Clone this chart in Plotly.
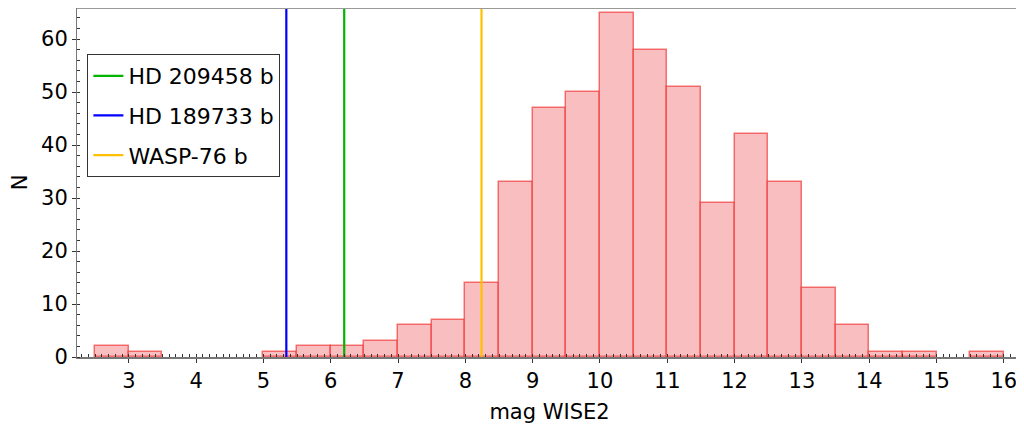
import numpy as np
import plotly.graph_objects as go

# Histogram data: bins of width 0.5 starting at 2.5
bin_start = 2.5
bin_width = 0.5
counts = [2, 1, 0, 0, 0, 1, 2, 2, 3, 6, 7, 14, 33, 47, 50, 65, 58, 51, 29, 42, 33, 13, 6, 1, 1, 0, 1]

# Planet magnitudes (vertical markers)
planet_names = ["HD 209458 b", "HD 189733 b", "WASP-76 b"]
planet_mags = [6.20, 5.34, 8.24]
planet_colors = ["#00b400", "#0000ff", "#ffc000"]

edges = bin_start + bin_width * np.arange(len(counts))
centers = edges + bin_width / 2
bar_heights = [c if c > 0 else None for c in counts]

FONT = "DejaVu Sans, Verdana, sans-serif"
FS = 21

# page body has an 8px margin; size the figure to fit the 1024x437 window
fig = go.Figure()
fig.add_trace(go.Bar(
    x=centers, y=bar_heights, width=bin_width,
    marker=dict(color="#f9bfc0", line=dict(color="rgba(240,30,30,0.6)", width=1.5)),
    showlegend=False, hoverinfo="x+y",
))
for i, (name, mag, col) in enumerate(zip(planet_names, planet_mags, planet_colors)):
    fig.add_trace(go.Scatter(
        x=[mag, mag], y=[0, 80], mode="lines", name=name,
        line=dict(color=col, width=2.2), legendgroup=str(i),
    ))

fig.update_layout(
    width=1016, height=429,
    margin=dict(l=69, r=2, t=0, b=80),
    paper_bgcolor="white", plot_bgcolor="white",
    font=dict(family=FONT, size=FS, color="black"),
    bargap=0,
    showlegend=True,
    legend=dict(
        x=0.011, y=0.868, xanchor="left", yanchor="top",
        bgcolor="white", bordercolor="#333333", borderwidth=1,
        font=dict(family=FONT, size=22, color="black"),
        tracegroupgap=8, itemwidth=30,
    ),
    xaxis=dict(
        range=[2.23, 16.27], tick0=3, dtick=1,
        ticks="outside", ticklen=4, tickcolor="#333333",
        showline=True, linecolor="#777777", linewidth=2, mirror=False,
        showgrid=False, zeroline=False, automargin=False,
        tickfont=dict(size=FS),
        title=dict(text="mag WISE2", font=dict(size=FS), standoff=12),
        minor=dict(dtick=0.1, ticks="inside", ticklen=3, tickcolor="#333333", showgrid=False),
    ),
    yaxis=dict(
        range=[0, 65.85], tick0=0, dtick=10,
        ticks="outside", ticklen=4, tickcolor="#333333",
        showline=True, linecolor="#777777", linewidth=1,
        showgrid=False, zeroline=False, automargin=False,
        tickfont=dict(size=FS),
        title=dict(text="N", font=dict(size=FS), standoff=16),
        minor=dict(dtick=2, ticks="inside", ticklen=3, tickcolor="#333333", showgrid=False),
    ),
)
# top and right frame lines
fig.add_shape(type="line", xref="paper", yref="paper", x0=0, x1=1, y0=1, y1=1,
              line=dict(color="#999999", width=2))
fig.add_shape(type="line", xref="paper", yref="paper", x0=1, x1=1, y0=0, y1=1,
              line=dict(color="#999999", width=1))

fig.write_html("out.html")
